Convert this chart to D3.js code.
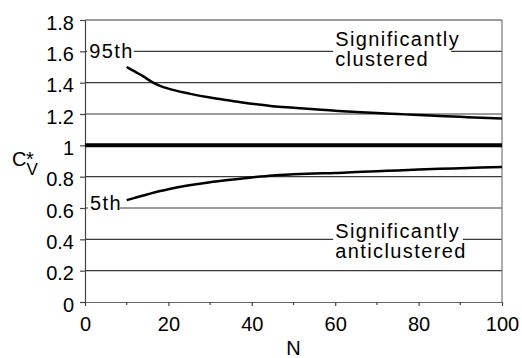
<!DOCTYPE html>
<html>
<meta charset="utf-8">
<style>
body {
  margin: 0;
  background: #fff;
}
svg text {
  font-family: "Liberation Sans", Arial, sans-serif;
  fill: #000;
}
.grid line {
  stroke: #3a3a3a;
  stroke-width: 1.2;
}
.axis path,
.axis line {
  fill: none;
  stroke: #444;
  stroke-width: 1.2;
}
.axis text {
  font-size: 20px;
}
.curve {
  fill: none;
  stroke: #000;
  stroke-width: 2.5;
}
.note {
  font-size: 20px;
  letter-spacing: 1.4px;
}
</style>
<body>
<script src="https://d3js.org/d3.v7.min.js"></script>
<script>
// sample sizes and the two percentile curves
var nValues = [10, 12, 14, 16, 18, 20, 25, 30, 35, 40, 45, 50, 55, 60, 65, 70, 75, 80, 85, 90, 95, 100];
var p95 = [1.50, 1.47, 1.44, 1.405, 1.38, 1.362, 1.33, 1.305, 1.285, 1.265, 1.25, 1.24, 1.23, 1.22, 1.213, 1.207, 1.20, 1.193, 1.188, 1.182, 1.176, 1.172];
var p5 = [0.65, 0.665, 0.68, 0.695, 0.708, 0.72, 0.745, 0.765, 0.78, 0.795, 0.808, 0.815, 0.82, 0.823, 0.83, 0.835, 0.84, 0.845, 0.85, 0.854, 0.858, 0.862];
var yTicks = [0, 0.2, 0.4, 0.6, 0.8, 1, 1.2, 1.4, 1.6, 1.8];
var xTicks = [0, 20, 40, 60, 80, 100];
var xMinor = [10, 30, 50, 70, 90];
var refLine = 1;

var margin = {top: 20, right: 20, bottom: 56, left: 85},
    width = 522 - margin.left - margin.right,
    height = 358 - margin.top - margin.bottom;

var svg = d3.select("body").append("svg")
    .attr("width", 522)
    .attr("height", 358)
  .append("g")
    .attr("transform", "translate(" + margin.left + "," + margin.top + ")");

var x = d3.scaleLinear().domain([0, 100]).range([0, width]);
var y = d3.scaleLinear().domain([0, 1.8]).range([height, 0]);

// horizontal gridlines
svg.append("g")
    .attr("class", "grid")
  .selectAll("line")
    .data(yTicks.filter(function(d) { return d > 0; }))
  .enter().append("line")
    .attr("x1", 0)
    .attr("x2", width)
    .attr("y1", function(d) { return y(d); })
    .attr("y2", function(d) { return y(d); });

// right border
svg.append("line")
    .attr("x1", width).attr("x2", width)
    .attr("y1", 0).attr("y2", height)
    .style("stroke", "#777")
    .style("stroke-width", 1.2);

// x axis (major + minor ticks)
var xAxis = svg.append("g")
    .attr("class", "axis axis--x")
    .attr("transform", "translate(0," + height + ")")
    .call(d3.axisBottom(x).tickValues(xTicks).tickSize(4).tickPadding(11).tickSizeOuter(0));
xAxis.select(".domain").style("stroke", "#666");
xAxis.selectAll(".minor")
    .data(xMinor)
  .enter().append("line")
    .attr("class", "minor")
    .attr("x1", function(d) { return x(d); })
    .attr("x2", function(d) { return x(d); })
    .attr("y1", 0)
    .attr("y2", 3);

// y axis
svg.append("g")
    .attr("class", "axis axis--y")
    .call(d3.axisLeft(y).tickValues(yTicks).tickSize(5).tickPadding(6).tickSizeOuter(0)
      .tickFormat(function(d) { return d3.format("")(+d.toFixed(1)); }))
  .selectAll("text")
    .attr("dy", "0.45em");

// label with white box so gridlines break behind it
function note(lines, px, py, lh, trim) {
  var g = svg.append("g");
  var bg = g.append("rect").style("fill", "#fff");
  var t = g.append("text")
      .attr("class", "note")
      .attr("x", px)
      .attr("y", py);
  lines.forEach(function(s, i) {
    t.append("tspan").attr("x", px).attr("dy", i ? lh : 0).text(s);
  });
  var b = t.node().getBBox();
  bg.attr("x", b.x - 2).attr("y", b.y)
    .attr("width", b.width + 2 - trim)
    .attr("height", b.height);
}

note(["95th"], x(1), y(1.6) + 7, 0, 0);
note(["5th"], x(1.2), y(0.6) + 2, 0, 2);
note(["Significantly", "clustered"], x(60), 46 - margin.top, 20, 9);
note(["Significantly", "anticlustered"], x(60), 238 - margin.top, 20, 4);

// reference line at Cv* = 1
svg.append("line")
    .attr("x1", 0).attr("x2", width)
    .attr("y1", y(refLine)).attr("y2", y(refLine))
    .style("stroke", "#000")
    .style("stroke-width", 4);

var line = d3.line()
    .x(function(d) { return x(d[0]); })
    .y(function(d) { return y(d[1]); })
    .curve(d3.curveMonotoneX);

svg.append("path")
    .datum(nValues.map(function(n, i) { return [n, p95[i]]; }))
    .attr("class", "curve")
    .attr("d", line);

svg.append("path")
    .datum(nValues.map(function(n, i) { return [n, p5[i]]; }))
    .attr("class", "curve")
    .attr("d", line);

// axis titles
var yt = svg.append("text")
    .attr("x", 12 - margin.left)
    .attr("y", 165.7 - margin.top)
    .style("font-size", "20px");
yt.append("tspan").text("C");
yt.append("tspan").attr("x", 26 - margin.left).text("*");
yt.append("tspan").attr("x", 26.5 - margin.left).attr("dy", 9.5).style("font-size", "17px").text("V");

svg.append("text")
    .attr("x", width / 2)
    .attr("y", 355 - margin.top)
    .style("font-size", "20px")
    .style("text-anchor", "middle")
    .text("N");
</script>
</body>
</html>
